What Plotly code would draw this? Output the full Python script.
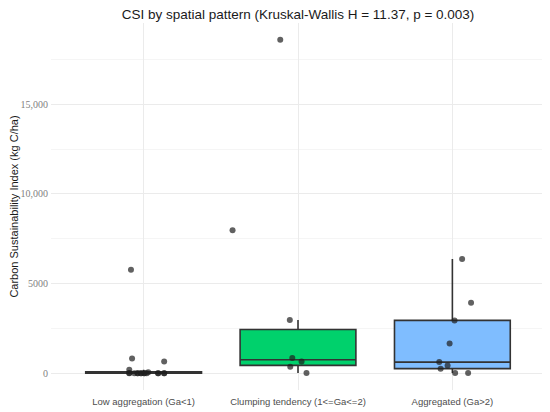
import numpy as np
import plotly.graph_objects as go

# groups (spatial pattern classes)
categories = ["Low aggregation (Ga<1)", "Clumping tendency (1<=Ga<=2)", "Aggregated (Ga>2)"]
box_colors = ["#F8766D", "#00D16C", "#7FBDFF"]

# CSI values per group (kg C/ha)
low_csi = [7970, 5780, 820, 660, 200, 55, 20, 10, 5, 0, 0, 0, 0, 0, 0, 0, 0, 0, 0, 0]
clump_csi = [18600, 2970, 850, 665, 370, 20]
agg_csi = [6380, 3930, 2950, 1660, 625, 440, 260, 20, 15]

# horizontal jitter of each point (category units)
low_jit = [0.576, -0.082, -0.075, 0.133, -0.093, 0.030, -0.093, -0.039, -0.017, 0.004,
           0.094, 0.133, -0.093, -0.039, -0.017, 0.004, 0.094, 0.133, -0.060, 0.020]
clump_jit = [-0.115, -0.053, -0.037, 0.023, -0.050, 0.055]
agg_jit = [0.063, 0.121, 0.014, -0.018, -0.085, -0.031, -0.076, 0.018, 0.102]

y_ticks = [0, 5000, 10000, 15000]
y_tick_text = ["0", "5000", "10,000", "15,000"]

groups = [low_csi, clump_csi, agg_csi]
jitters = [low_jit, clump_jit, agg_jit]


def box_stats(vals):
    # ggplot-style stats: quantile type 7, whiskers to last point within 1.5 IQR
    v = np.array(vals, dtype=float)
    q1, med, q3 = np.percentile(v, [25, 50, 75])
    iqr = q3 - q1
    lo = v[v >= q1 - 1.5 * iqr].min()
    hi = v[v <= q3 + 1.5 * iqr].max()
    return q1, med, q3, lo, hi


fig = go.Figure()

for i, vals in enumerate(groups):
    q1, med, q3, lo, hi = box_stats(vals)
    fig.add_trace(go.Box(
        x=[i + 1], q1=[q1], median=[med], q3=[q3],
        lowerfence=[lo], upperfence=[hi],
        width=0.75,
        fillcolor=box_colors[i],
        line=dict(color="#333333", width=1.6),
        whiskerwidth=0,
        showlegend=False,
        hoverinfo="skip",
    ))

for i, vals in enumerate(groups):
    pos = i + 1
    fig.add_trace(go.Scatter(
        x=[pos + j for j in jitters[i]], y=vals,
        mode="markers",
        marker=dict(color="rgba(30,30,30,0.7)", size=6),
        showlegend=False,
    ))

# page has an 8px body margin, so the figure is sized to what is visible
fig.update_layout(
    width=542, height=404,
    margin=dict(l=42, r=5, t=15, b=19),
    paper_bgcolor="white", plot_bgcolor="white",
    title=dict(
        text="CSI by spatial pattern (Kruskal-Wallis H = 11.37, p = 0.003)",
        xref="paper", x=0.5, xanchor="center",
        y=1 - 6.5 / 404, yanchor="middle",
        font=dict(family="Liberation Sans, Arial", size=13.5, color="#1a1a1a"),
    ),
)

fig.update_xaxes(
    range=[0.4, 3.6],
    tickvals=[1, 2, 3], ticktext=categories,
    showgrid=True, gridcolor="#EBEBEB", gridwidth=1,
    zeroline=False, showline=False, ticks="",
    ticklabelstandoff=4,
    tickfont=dict(family="Liberation Sans, Arial", size=9.5, color="#4D4D4D"),
)

fig.update_yaxes(
    range=[-930, 19530],
    tickvals=y_ticks, ticktext=y_tick_text,
    showgrid=True, gridcolor="#EBEBEB", gridwidth=1,
    minor=dict(dtick=2500, tick0=0, showgrid=True, gridcolor="#F5F5F5", gridwidth=1),
    zeroline=False, showline=False, ticks="",
    tickfont=dict(family="Liberation Serif, Times New Roman", size=10, color="#7F7F7F"),
    ticklabelstandoff=2,
    title=dict(text="Carbon Sustainability Index (kg C/ha)", standoff=0,
               font=dict(family="Liberation Sans, Arial", size=11, color="#1a1a1a")),
)

fig.write_html("out.html")
